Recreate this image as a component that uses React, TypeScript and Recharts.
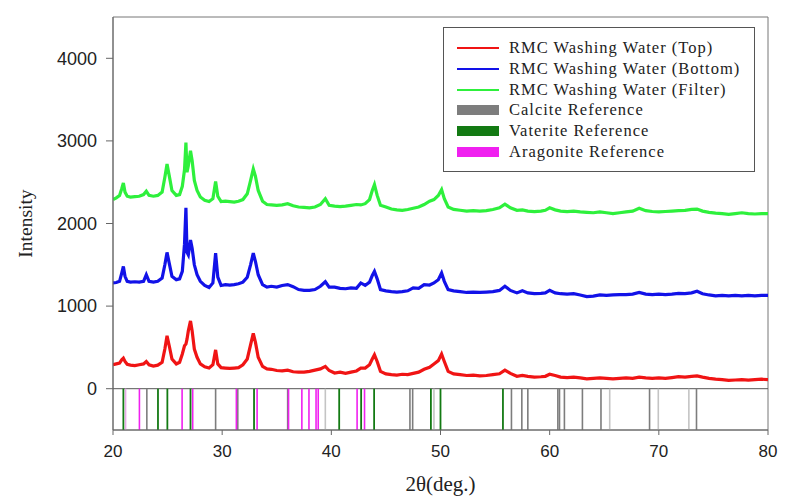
import React from 'react';
import { LineChart, Line, XAxis, YAxis, ReferenceLine, ReferenceArea, Legend } from 'recharts';

// 2θ positions (deg.)
const twoTheta = [
  20, 20.3, 20.6, 20.8, 20.95, 21.1, 21.3, 21.6, 22.0, 22.4,
  22.8, 23.05, 23.3, 23.7, 24.1, 24.5, 24.75, 24.95, 25.15, 25.4,
  25.8, 26.1, 26.35, 26.55, 26.68, 26.78, 26.9, 27.1, 27.25, 27.45,
  27.7, 28.0, 28.4, 28.8, 29.15, 29.4, 29.6, 29.9, 30.3, 30.7,
  31.1, 31.5, 31.9, 32.3, 32.6, 32.85, 33.05, 33.3, 33.7, 34.1,
  34.5, 35.0, 35.5, 36.0, 36.5, 37.0, 37.5, 38.0, 38.5, 39.0,
  39.45, 39.8, 40.3, 40.8, 41.3, 41.8, 42.3, 42.7, 43.1, 43.5,
  43.75, 43.95, 44.2, 44.5, 45.0, 45.5, 46.0, 46.5, 47.0, 47.5,
  48.0, 48.5, 49.0, 49.4, 49.8, 50.1, 50.35, 50.7, 51.2, 51.8,
  52.4, 53.0, 53.6, 54.2, 54.8, 55.4, 55.9, 56.4, 57.0, 57.5,
  58.0, 58.6, 59.2, 59.6, 60.0, 60.5, 61.0, 61.6, 62.2, 62.8,
  63.4, 64.0, 64.6, 65.2, 65.8, 66.4, 67.0, 67.6, 68.2, 68.8,
  69.4, 70.0, 70.6, 71.2, 71.8, 72.4, 73.0, 73.5, 74.0, 74.6,
  75.2, 75.8, 76.4, 77.0, 77.6, 78.2, 78.8, 79.4, 80,
];

// RMC Washing Water (Top)
const topIntensity = [
  290, 300, 310, 350, 370, 330, 295, 285, 280, 290,
  300, 330, 290, 275, 285, 320, 480, 640, 520, 360,
  300, 320, 420, 520, 540, 600, 700, 820, 700, 480,
  380, 300, 265, 250, 290, 470, 300, 255, 250, 245,
  250, 255, 290, 360, 530, 670, 560, 380, 270, 240,
  235, 220, 215, 225, 205, 200, 200, 210, 225, 240,
  270, 220, 190, 200, 185, 200, 215, 250, 250, 290,
  360, 410, 330, 210, 180, 170, 165, 175, 170, 185,
  200, 235, 260, 300, 340, 420, 330, 210, 180, 170,
  160, 165, 155, 160, 170, 180, 225, 185, 150, 160,
  150, 140, 145, 150, 175, 160, 140, 135, 140, 130,
  120, 125, 130, 125, 120, 125, 130, 125, 140, 130,
  125, 130, 125, 135, 145, 140, 150, 155, 140, 125,
  115, 110, 100, 105, 110, 105, 110, 115, 110,
];

// RMC Washing Water (Bottom)
const bottomIntensity = [
  1280, 1285, 1300, 1400, 1480, 1360, 1300, 1290, 1295, 1290,
  1300, 1380, 1300, 1290, 1300, 1340, 1500, 1650, 1520, 1360,
  1320, 1330, 1420, 1750, 2190, 1650, 1620, 1800, 1700, 1500,
  1380, 1300, 1250, 1225, 1280, 1640, 1350, 1250, 1260, 1255,
  1260, 1270, 1290, 1350, 1500, 1640, 1540, 1380, 1260, 1230,
  1240, 1230, 1250, 1260, 1235, 1200, 1190, 1190, 1200, 1240,
  1295, 1230, 1230, 1215, 1210, 1220, 1215, 1280, 1250, 1290,
  1370, 1420, 1330, 1200, 1185, 1175, 1170, 1175, 1185, 1220,
  1215, 1260, 1255, 1280, 1320, 1400, 1300, 1200, 1185, 1175,
  1165, 1170, 1165, 1170, 1175, 1190, 1240, 1190, 1160, 1185,
  1160, 1150, 1155, 1160, 1190, 1160, 1150, 1145, 1150, 1135,
  1115, 1120, 1135, 1130, 1135, 1140, 1140, 1145, 1165, 1145,
  1140, 1145, 1140, 1145, 1155, 1150, 1160, 1180, 1150, 1135,
  1125, 1130, 1125, 1130, 1125, 1130, 1125, 1130, 1130,
];

// RMC Washing Water (Filter)
const filterIntensity = [
  2290, 2310, 2340, 2420, 2490, 2380, 2330, 2320, 2325, 2330,
  2350, 2390, 2340, 2330, 2340, 2380, 2560, 2720, 2580, 2400,
  2340, 2350, 2450, 2650, 2980, 2620, 2700, 2880, 2760, 2520,
  2400, 2320, 2280, 2265, 2300, 2510, 2330, 2265, 2270, 2265,
  2260, 2270, 2290, 2360, 2520, 2660, 2570, 2400, 2270, 2230,
  2225, 2220, 2225, 2240, 2215, 2200, 2195, 2190, 2200, 2230,
  2300, 2220, 2210, 2205, 2210, 2220, 2230, 2225, 2240, 2290,
  2400, 2470, 2340, 2220, 2200, 2175, 2165, 2160, 2170, 2185,
  2200, 2230, 2270, 2290, 2340, 2410, 2300, 2200, 2170, 2160,
  2150, 2155, 2150, 2155, 2170, 2190, 2235, 2190, 2160, 2165,
  2150, 2145, 2150, 2160, 2190, 2165, 2150, 2145, 2150, 2140,
  2135, 2130, 2140, 2130, 2120, 2130, 2140, 2150, 2185, 2155,
  2145, 2140, 2145, 2150, 2155, 2160, 2170, 2175, 2150, 2135,
  2125, 2120, 2110, 2120, 2130, 2120, 2115, 2120, 2120,
];

// Reference pattern peak positions (2θ)
const calcitePeaks = [23.1, 29.4, 31.43, 36.0, 47.2, 47.45, 56.5, 57.45, 58.0, 60.75, 60.9, 61.35, 63.0, 64.7, 69.15, 73.45];
const calciteWeakPeaks = [39.45, 49.4, 65.5, 69.95, 72.75];
const vateritePeaks = [20.95, 24.12, 24.98, 27.1, 32.92, 40.72, 42.73, 43.92, 49.12, 50.0, 55.72];
const aragonitePeaks = [22.42, 26.33, 27.3, 31.3, 33.2, 36.08, 37.3, 37.95, 38.6, 38.8, 42.36, 43.04];
const aragoniteWeakPeaks = [21.15];

const xTicks = [20, 30, 40, 50, 60, 70, 80];
const yTicks = [0, 1000, 2000, 3000, 4000];

const seriesNames = ['RMC Washing Water (Top)', 'RMC Washing Water (Bottom)', 'RMC Washing Water (Filter)'];
const referenceNames = ['Calcite Reference', 'Vaterite Reference', 'Aragonite Reference'];

const data = twoTheta.map((x, i) => ({
  x,
  top: topIntensity[i],
  bottom: bottomIntensity[i],
  filter: filterIntensity[i],
}));

const RED = '#f01414';
const BLUE = '#1212e8';
const GREEN = '#2ef03c';
const GRAY = '#7d7d7d';
const GRAY_LIGHT = '#c4c4c4';
const DGREEN = '#137a13';
const MAGENTA = '#f020f0';
const MAGENTA_LIGHT = '#e8a8e8';

const serif = '"Liberation Serif", "Times New Roman", serif';
const sans = '"Liberation Sans", Arial, sans-serif';

const lineColors = [RED, BLUE, GREEN];
const refColors = [GRAY, DGREEN, MAGENTA];

const LegendBox = () => (
  <div
    style={{
      boxSizing: 'border-box',
      width: 312,
      height: 145,
      border: '1px solid #555',
      background: '#fff',
      paddingTop: 10,
      paddingLeft: 13,
      fontFamily: serif,
      fontSize: 16.5,
      letterSpacing: 1,
      color: '#222',
    }}
  >
    {seriesNames.map((n, i) => (
      <div key={n} style={{ height: 20.7, display: 'flex', alignItems: 'center' }}>
        <svg width={42} height={10} style={{ marginRight: 10 }}>
          <line x1={0} y1={5} x2={42} y2={5} stroke={lineColors[i]} strokeWidth={2} />
        </svg>
        <span style={{ whiteSpace: 'nowrap' }}>{n}</span>
      </div>
    ))}
    {referenceNames.map((n, i) => (
      <div key={n} style={{ height: 20.7, display: 'flex', alignItems: 'center' }}>
        <svg width={42} height={10} style={{ marginRight: 10 }}>
          <rect x={0} y={0} width={42} height={10} fill={refColors[i]} />
        </svg>
        <span style={{ whiteSpace: 'nowrap' }}>{n}</span>
      </div>
    ))}
  </div>
);

const refSeg = (v: number) => [
  { x: v, y: 0 },
  { x: v, y: -500 },
];

export default function App() {
  return (
    <div style={{ position: 'absolute', left: 0, top: 0, width: 793, height: 501, background: '#fff' }}>
      <LineChart width={793} height={501} data={data} margin={{ top: 17, right: 25, left: 0, bottom: 31 }}>
        <XAxis
          dataKey="x"
          type="number"
          domain={[20, 80]}
          ticks={xTicks}
          allowDataOverflow
          height={40}
          tickSize={5}
          tickMargin={10}
          stroke="#666"
          tick={{ fill: '#222', fontSize: 17, fontFamily: sans }}
          label={{
            value: '2θ(deg.)',
            position: 'bottom',
            offset: 6,
            style: { fontFamily: serif, fontSize: 21, fill: '#222' },
          }}
        />
        <YAxis
          type="number"
          domain={[-500, 4500]}
          ticks={yTicks}
          allowDataOverflow
          width={113}
          tickSize={7}
          tickMargin={9}
          stroke="#666"
          tick={{ fill: '#222', fontSize: 18, fontFamily: sans }}
          label={{
            value: 'Intensity',
            angle: -90,
            position: 'insideLeft',
            offset: 25,
            style: { fontFamily: serif, fontSize: 19.5, fill: '#222', textAnchor: 'middle' },
          }}
        />
        <ReferenceArea x1={20} x2={80} y1={-500} y2={4500} fill="none" stroke="#777" strokeWidth={1} ifOverflow="visible" />
        <ReferenceLine y={0} stroke="#555" strokeWidth={1} />
        {calciteWeakPeaks.map((v) => (
          <ReferenceLine key={'cw' + v} segment={refSeg(v)} stroke={GRAY_LIGHT} strokeWidth={1.6} />
        ))}
        {calcitePeaks.map((v) => (
          <ReferenceLine key={'c' + v} segment={refSeg(v)} stroke={GRAY} strokeWidth={1.6} />
        ))}
        {aragoniteWeakPeaks.map((v) => (
          <ReferenceLine key={'aw' + v} segment={refSeg(v)} stroke={MAGENTA_LIGHT} strokeWidth={1.6} />
        ))}
        {aragonitePeaks.map((v) => (
          <ReferenceLine key={'a' + v} segment={refSeg(v)} stroke={MAGENTA} strokeWidth={1.6} />
        ))}
        {vateritePeaks.map((v) => (
          <ReferenceLine key={'v' + v} segment={refSeg(v)} stroke={DGREEN} strokeWidth={1.8} />
        ))}
        <Line dataKey="top" name={seriesNames[0]} stroke={RED} strokeWidth={3.2} dot={false} isAnimationActive={false} />
        <Line dataKey="bottom" name={seriesNames[1]} stroke={BLUE} strokeWidth={3.2} dot={false} isAnimationActive={false} />
        <Line dataKey="filter" name={seriesNames[2]} stroke={GREEN} strokeWidth={3.2} dot={false} isAnimationActive={false} />
        <Legend
          layout="horizontal"
          verticalAlign="middle"
          align="center"
          content={() => <LegendBox />}
          wrapperStyle={{ left: 443, top: 27, width: 312, height: 145 }}
        />
      </LineChart>
    </div>
  );
}
